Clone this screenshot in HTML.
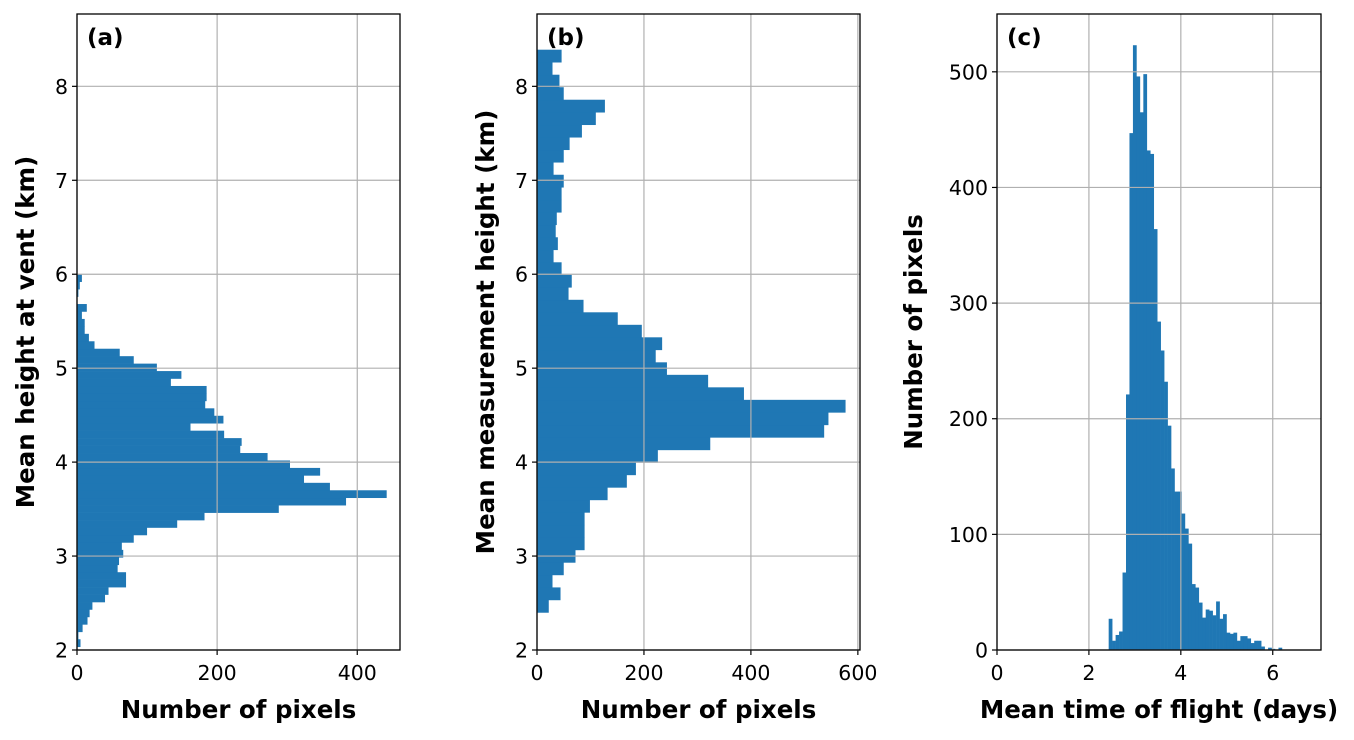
<!DOCTYPE html>
<html><head><meta charset="utf-8"><style>
body{margin:0;background:#fff}
text{font-family:"DejaVu Sans","Liberation Sans",sans-serif;fill:#000}
</style></head><body>
<svg id="chart" width="1354" height="735" viewBox="0 0 1354 735" xmlns="http://www.w3.org/2000/svg"></svg>
<script>
// Panel (a): mean height at vent histogram (horizontal)
const aBinStart = 2.035, aBinEnd = 6.0;
const aCounts = [5,2,8,15,18,22,40,45,70,70,58,60,66,64,81,100,143,182,288,384,442,361,324,347,304,272,233,235,210,162,209,196,183,185,185,134,149,114,81,61,25,17,11,11,7,14,0,2,4,7];
const aXTicks = [0,200,400];
const aYTicks = [2,3,4,5,6,7,8];
// Panel (b): mean measurement height histogram (horizontal)
const bBinStart = 2.40, bBinEnd = 8.39;
const bCounts = [22,44,29,50,72,89,89,89,99,132,168,185,226,324,537,545,577,387,320,243,222,234,196,151,87,59,65,46,31,39,35,37,46,46,50,31,50,61,84,110,127,50,42,29,46];
const bXTicks = [0,200,400,600];
const bYTicks = [2,3,4,5,6,7,8];
// Panel (c): mean time of flight histogram
const cBinStart = 2.43, cBinEnd = 6.20;
const cCounts = [27,8,13,16,67,221,447,523,496,465,498,432,429,364,284,259,232,194,157,137,137,118,105,92,57,54,41,28,35,34,30,42,27,31,15,14,15,8,12,12,10,6,8,8,3,0,2,1,0,2];
const cXTicks = [0,2,4,6];
const cYTicks = [0,100,200,300,400,500];

const NS = "http://www.w3.org/2000/svg";
const svg = document.getElementById('chart');
function mk(tag, attrs, parent){const e=document.createElementNS(NS,tag);for(const k in attrs)e.setAttribute(k,attrs[k]);(parent||svg).appendChild(e);return e;}
const BLUE = "#1f77b4", GRID = "#b0b0b0";

function panel(cfg){
  const g = mk('g',{});
  
  
  const L=cfg.x0,R=cfg.x1,T=14,B=650;
  const sx = v => L + (v-cfg.xmin)/(cfg.xmax-cfg.xmin)*(R-L);
  const sy = v => B - (v-cfg.ymin)/(cfg.ymax-cfg.ymin)*(B-T);
  const n = cfg.counts.length, w = (cfg.binEnd-cfg.binStart)/n;
  cfg.counts.forEach((c,i)=>{
    const lo = cfg.binStart + i*w, hi = lo + w;
    let r;
    if(cfg.horizontal){
      r = mk('rect',{x:sx(0),y:sy(hi),width:Math.max(0,sx(c)-sx(0)),height:sy(lo)-sy(hi)+0.3,fill:BLUE},g);
    } else {
      r = mk('rect',{x:sx(lo),y:sy(c),width:sx(hi)-sx(lo)+0.3,height:Math.max(0,sy(0)-sy(c)),fill:BLUE},g);
    }
    
    
  });
  cfg.xticks.forEach(t=>{
    const x=sx(t);
    const l=mk('line',{x1:x,x2:x,y1:T,y2:B,stroke:GRID,'stroke-width':1.2},g);
    
    
    mk('line',{x1:x,x2:x,y1:B,y2:B+5,stroke:'#000','stroke-width':1.2},g);
    const tx=mk('text',{x:x,y:B+30,'text-anchor':'middle','font-size':20.5},g);
    tx.textContent=t;
    
    
  });
  cfg.yticks.forEach(t=>{
    const y=sy(t);
    const l=mk('line',{x1:L,x2:R,y1:y,y2:y,stroke:GRID,'stroke-width':1.2},g);
    
    
    mk('line',{x1:L-5,x2:L,y1:y,y2:y,stroke:'#000','stroke-width':1.2},g);
    const tx=mk('text',{x:L-9,y:y+7.5,'text-anchor':'end','font-size':20.5},g);
    tx.textContent=t;
    
    
  });
  const fr=mk('rect',{x:L,y:T,width:R-L,height:B-T,fill:'none',stroke:'#000','stroke-width':1.3},g);
  
  
  const lab=mk('text',{x:L+10,y:T+31,'font-size':23,'font-weight':'bold'},g);
  lab.textContent=cfg.label;
  
  
  const xt=mk('text',{x:(L+R)/2,y:718,'text-anchor':'middle','font-size':24.5,'font-weight':'bold'},g);
  xt.textContent=cfg.xtitle;
  
  
  const yt=mk('text',{x:0,y:0,'text-anchor':'middle','font-size':24.5,'font-weight':'bold',transform:`translate(${cfg.ytx},${(T+B)/2}) rotate(-90)`},g);
  yt.textContent=cfg.ytitle;
  
  
}

panel({name:'panel-a',x0:77,x1:400,xmin:0,xmax:461,ymin:2,ymax:8.77,horizontal:true,counts:aCounts,binStart:aBinStart,binEnd:aBinEnd,xticks:aXTicks,yticks:aYTicks,label:'(a)',xtitle:'Number of pixels',ytitle:'Mean height at vent (km)',ytx:34});
panel({name:'panel-b',x0:537,x1:860,xmin:0,xmax:604,ymin:2,ymax:8.77,horizontal:true,counts:bCounts,binStart:bBinStart,binEnd:bBinEnd,xticks:bXTicks,yticks:bYTicks,label:'(b)',xtitle:'Number of pixels',ytitle:'Mean measurement height (km)',ytx:494});
panel({name:'panel-c',x0:997,x1:1321,xmin:0,xmax:7.05,ymin:0,ymax:550,horizontal:false,counts:cCounts,binStart:cBinStart,binEnd:cBinEnd,xticks:cXTicks,yticks:cYTicks,label:'(c)',xtitle:'Mean time of flight (days)',ytitle:'Number of pixels',ytx:922});
</script>
</body></html>
